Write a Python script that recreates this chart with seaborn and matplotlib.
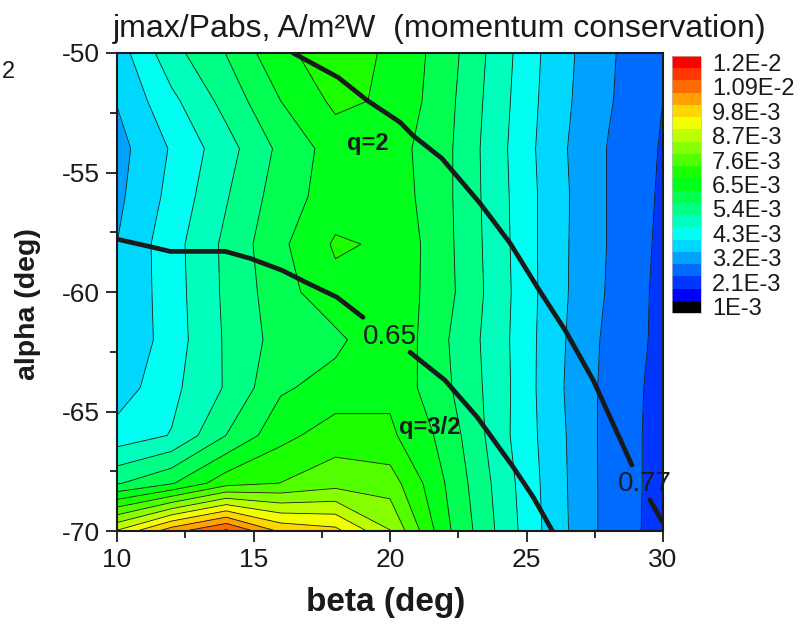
import numpy as np
import matplotlib
matplotlib.use("Agg")
import matplotlib.pyplot as plt
from matplotlib.ticker import MultipleLocator
import seaborn as sns
import colorsys

# ---------------- data ----------------
beta = [10, 12, 14, 16, 18, 20, 22, 24, 26, 28, 30]
alpha = [-50, -52, -54, -56, -58, -60, -62, -64, -66, -68, -70]
# jmax/Pabs in units of 1E-3 A/m^2W, rows follow alpha, columns follow beta
jmax_pabs_e3 = [
    [4.014, 5.208, 5.967, 6.929, 7.325, 6.968, 6.253, 5.125, 4.042, 3.283, 2.705],
    [3.778, 4.713, 5.593, 6.502, 7.171, 6.968, 6.170, 5.070, 3.998, 3.255, 2.650],
    [3.547, 4.355, 5.180, 6.088, 6.748, 6.759, 6.115, 5.015, 3.943, 3.173, 2.595],
    [3.624, 4.465, 5.356, 6.236, 6.764, 6.830, 6.110, 5.043, 3.987, 3.173, 2.557],
    [3.752, 4.630, 5.527, 6.390, 7.122, 6.968, 6.132, 5.070, 3.970, 3.173, 2.518],
    [3.761, 4.603, 5.510, 6.280, 6.885, 6.913, 6.159, 5.098, 3.970, 3.145, 2.485],
    [3.752, 4.575, 5.472, 6.181, 6.363, 6.979, 6.022, 5.065, 3.943, 3.063, 2.496],
    [3.998, 4.707, 5.455, 6.418, 6.720, 6.918, 6.082, 5.098, 3.915, 3.024, 2.447],
    [4.520, 4.878, 5.955, 6.885, 7.325, 7.160, 6.335, 5.070, 3.970, 3.008, 2.430],
    [5.895, 6.445, 7.380, 7.610, 7.930, 7.875, 6.505, 5.208, 3.998, 3.008, 2.430],
    [9.305, 10.680, 11.560, 10.240, 9.965, 8.720, 6.665, 5.290, 4.025, 3.002, 2.414],
]
level_start_e3 = 1.0
level_step_e3 = 0.55
n_bands = 21
cbar_labels = ["1E-3", "2.1E-3", "3.2E-3", "4.3E-3", "5.4E-3", "6.5E-3",
               "7.6E-3", "8.7E-3", "9.8E-3", "1.09E-2", "1.2E-2"]

# q contour lines (beta, alpha), split where the inline label sits
q065_beta_1 = [10.0, 11.32, 11.94, 13.96, 14.87, 16.04, 17.0, 18.06, 19.01]
q065_alpha_1 = [-57.79, -58.13, -58.30, -58.30, -58.59, -59.09, -59.64, -60.22, -61.06]
q065_beta_2 = [20.73, 22.01, 23.19, 24.51, 25.24, 25.95]
q065_alpha_2 = [-62.52, -63.69, -65.23, -67.32, -68.57, -70.0]
q077_beta_1 = [16.45, 18.1, 19.16, 20.37, 20.84, 21.9, 23.3, 24.4, 25.42, 26.41, 27.44, 28.86]
q077_alpha_1 = [-50.0, -51.02, -51.98, -52.9, -53.45, -54.41, -56.29, -57.96, -59.84, -61.59, -63.68, -67.24]
q077_beta_2 = [29.52, 30.0]
q077_alpha_2 = [-68.7, -69.66]

# ---------------- style ----------------
sns.set_theme(style="ticks")
plt.rcParams["font.family"] = ["Liberation Sans", "DejaVu Sans"]
plt.rcParams["axes.unicode_minus"] = False
for key in ["text.color", "axes.labelcolor", "xtick.color", "ytick.color", "axes.edgecolor"]:
    plt.rcParams[key] = "black"

W, H = 800, 624
fig = plt.figure(figsize=(W / 100, H / 100), dpi=100)

def fx(px):
    return px / W

def fy(py):
    return 1 - py / H

ax = fig.add_axes([fx(117), fy(531), (663 - 117) / W, (531 - 53) / H])
cax = fig.add_axes([fx(672), fy(313), (701 - 672) / W, (313 - 56) / H])

B, A = np.meshgrid(np.array(beta, float), np.array(alpha, float))
Z = np.array(jmax_pabs_e3, float)

levels = level_start_e3 + level_step_e3 * np.arange(n_bands + 1)
band_colors = [(0, 0, 0)] + [colorsys.hsv_to_rgb(h / 360.0, 1, 1)
                             for h in np.linspace(240, 0, n_bands - 1)]

cf = ax.contourf(B, A, Z, levels=levels, colors=band_colors)
ax.contour(B, A, Z, levels=levels, colors="k", linewidths=0.6)

for xb, ya in [(q065_beta_1, q065_alpha_1), (q065_beta_2, q065_alpha_2),
               (q077_beta_1, q077_alpha_1), (q077_beta_2, q077_alpha_2)]:
    sns.lineplot(x=xb, y=ya, sort=False, estimator=None, color="k",
                 linewidth=3.4, ax=ax, legend=False)

ax.text(19.2, -53.8, "q=2", fontsize=17, fontweight="bold", ha="center", va="center", color="k")
ax.text(21.47, -65.65, "q=3/2", fontsize=17, fontweight="bold", ha="center", va="center", color="k")
ax.text(20.0, -61.9, "0.65", fontsize=20, ha="center", va="center", color="k")
ax.text(29.34, -68.05, "0.77", fontsize=20, ha="center", va="center", color="k")

ax.set_xlim(10, 30)
ax.set_ylim(-70, -50)
ax.set_xticks([10, 15, 20, 25, 30])
ax.set_yticks([-70, -65, -60, -55, -50])
ax.xaxis.set_minor_locator(MultipleLocator(2.5))
ax.yaxis.set_minor_locator(MultipleLocator(2.5))
ax.tick_params(which="major", direction="out", length=8, width=1.3,
               labelsize=19, pad=4, colors="k")
ax.tick_params(which="minor", direction="out", length=5, width=1.3, colors="k")
for s in ax.spines.values():
    s.set_linewidth(1.5)
    s.set_color("k")
ax.set_xlabel("")
ax.set_ylabel("")

fig.text(fx(440), fy(37), "jmax/Pabs, A/m²W  (momentum conservation)",
         fontsize=23, ha="center", va="baseline", color="k")
fig.text(fx(386), fy(603), "beta (deg)", fontsize=24, fontweight="bold",
         ha="center", va="center", color="k")
fig.text(fx(28), fy(304), "alpha (deg)", fontsize=20.5, fontweight="bold",
         ha="center", va="center", rotation=90, color="k")
fig.text(fx(2), fy(72), "2", fontsize=17, ha="left", va="center", color="k")

centers = (levels[:-1] + levels[1:]) / 2
cb = fig.colorbar(cf, cax=cax, ticks=centers[::2])
cb.set_ticklabels(cbar_labels)
cb.ax.tick_params(length=0, labelsize=17, pad=8, colors="k")
cb.outline.set_linewidth(0.5)
cb.outline.set_edgecolor("#bbbbbb")
cb.ax.minorticks_off()

fig.savefig("out.png", dpi=100)
